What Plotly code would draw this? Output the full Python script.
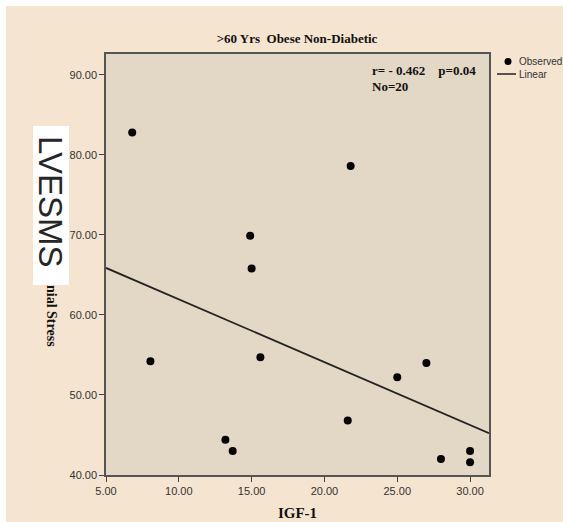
import plotly.graph_objects as go
import numpy as np

# Observed data (IGF-1 vs stress)
igf1 = [6.8, 21.8, 14.9, 15.0, 8.05, 15.6, 25.0, 27.0, 21.6, 13.2, 13.7, 28.0, 30.0, 30.0]
stress = [82.8, 78.6, 69.9, 65.8, 54.2, 54.7, 52.2, 54.0, 46.8, 44.4, 43.0, 42.0, 43.0, 41.6]

# Linear fit coefficients
fit_intercept = 69.8
fit_slope = -0.785

x_range = [5.0, 31.3]
y_range = [40.0, 92.6]
x_ticks = [5, 10, 15, 20, 25, 30]
y_ticks = [40, 50, 60, 70, 80, 90]

legend_labels = ["Observed", "Linear"]

PAPER = "#F5E4D0"
PLOTBG = "#E3D7C6"

L, R, T, B = 106, 74, 54, 47
W, H = 563, 522
pw, ph = W - L - R, H - T - B

def px_x(p):
    return (p - L) / pw

def px_y(p):
    return (H - B - p) / ph

fig = go.Figure()
fig.add_trace(go.Scatter(
    x=igf1, y=stress, mode="markers", name=legend_labels[0],
    marker=dict(color="black", size=8), cliponaxis=False, showlegend=False))
fx = np.array(x_range)
fig.add_trace(go.Scatter(
    x=fx, y=fit_intercept + fit_slope * fx, mode="lines", name=legend_labels[1],
    line=dict(color="#222222", width=1.8), showlegend=False))

serif = "Liberation Serif, Times New Roman, serif"
sans = "Liberation Sans, Arial, sans-serif"

fig.update_layout(
    width=W, height=H,
    margin=dict(l=L, r=R, t=T, b=B, autoexpand=False),
    paper_bgcolor=PAPER, plot_bgcolor=PLOTBG,
    title=dict(text="<b>&gt;60 Yrs  Obese Non-Diabetic</b>", x=px_x(297), xref="paper",
               xanchor="center", y=1 - 38 / H, yanchor="middle",
               font=dict(family=serif, size=13, color="#111")),
    showlegend=False,
    xaxis=dict(range=x_range, tickvals=x_ticks, tickformat=".2f",
               showgrid=False, zeroline=False, showline=True, mirror=True,
               linecolor="#555", linewidth=1.5, ticks="outside", ticklen=5,
               tickcolor="#444", tickfont=dict(family=sans, size=11, color="#333"),
               title=dict(text="<b>IGF-1</b>", font=dict(family=serif, size=15, color="#111"),
                          standoff=12)),
    yaxis=dict(range=y_range, tickvals=y_ticks, tickformat=".2f",
               showgrid=False, zeroline=False, showline=True, mirror=True,
               linecolor="#555", linewidth=1.5, ticks="outside", ticklen=5,
               tickcolor="#444", tickfont=dict(family=sans, size=11, color="#333")),
)

shapes = [
    # white strips at top and left edge
    dict(type="rect", xref="paper", yref="paper", x0=px_x(0), x1=px_x(W), y0=px_y(6), y1=px_y(0),
         fillcolor="white", line=dict(width=0), layer="above"),
    dict(type="rect", xref="paper", yref="paper", x0=px_x(0), x1=px_x(6), y0=px_y(H), y1=px_y(0),
         fillcolor="white", line=dict(width=0), layer="above"),
    # white box behind LVESMS label
    dict(type="rect", xref="paper", yref="paper", x0=px_x(33), x1=px_x(69), y0=px_y(285), y1=px_y(126),
         fillcolor="white", line=dict(width=0), layer="above"),
    # legend symbols
    dict(type="circle", xref="paper", yref="paper", x0=px_x(504.5), x1=px_x(511.5),
         y0=px_y(65), y1=px_y(58), fillcolor="black", line=dict(width=0)),
    dict(type="line", xref="paper", yref="paper", x0=px_x(497), x1=px_x(516),
         y0=px_y(74), y1=px_y(74), line=dict(color="#222", width=1.5)),
]
fig.update_layout(shapes=shapes)

fig.add_annotation(text=legend_labels[0], xref="paper", yref="paper", x=px_x(517), y=px_y(62),
                   xanchor="left", yanchor="middle", showarrow=False,
                   font=dict(family=sans, size=10, color="#333"))
fig.add_annotation(text=legend_labels[1], xref="paper", yref="paper", x=px_x(517), y=px_y(74),
                   xanchor="left", yanchor="middle", showarrow=False,
                   font=dict(family=sans, size=10, color="#333"))

fig.add_annotation(text="LVESMS", xref="paper", yref="paper", x=px_x(51), y=px_y(201),
                   showarrow=False, textangle=90, font=dict(family=sans, size=33, color="#262626"),
                   xanchor="center", yanchor="middle")
fig.add_annotation(text="<b>nial Stress</b>", xref="paper", yref="paper", x=px_x(52), y=px_y(316),
                   showarrow=False, textangle=90, font=dict(family=serif, size=14, color="#111"),
                   xanchor="center", yanchor="middle")
fig.add_annotation(text="<b>r= - 0.462&nbsp;&nbsp;&nbsp;&nbsp;p=0.04</b>", xref="paper", yref="paper",
                   x=px_x(370), y=px_y(70), xanchor="left", yanchor="middle", showarrow=False,
                   font=dict(family=serif, size=13, color="#111"))
fig.add_annotation(text="<b>No=20</b>", xref="paper", yref="paper",
                   x=px_x(370), y=px_y(86), xanchor="left", yanchor="middle", showarrow=False,
                   font=dict(family=serif, size=13, color="#111"))

fig.write_html("out.html")
